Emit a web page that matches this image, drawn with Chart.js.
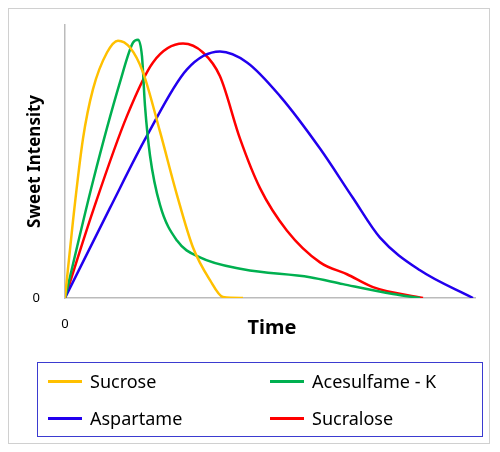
<!DOCTYPE html>
<html><head><meta charset="utf-8">
<script src="https://cdn.jsdelivr.net/npm/chart.js@4"></script>
<style>
html,body{margin:0;padding:0;background:#fff;}
#wrap{position:relative;width:500px;height:452px;}
#frame{position:absolute;left:8px;top:8px;width:482px;height:436px;border:1px solid #d0d0d0;box-sizing:border-box;}
#legend{position:absolute;left:37px;top:362px;width:446px;height:75px;border:1.5px solid #3b3bd0;box-sizing:border-box;font-family:"Noto Sans",sans-serif;font-size:18px;color:#000;}
.item{position:absolute;display:flex;align-items:center;}
.sw{width:34px;height:3px;margin-right:8px;}
</style></head><body>
<div id="wrap"><div id="frame"></div>
<canvas id="c" width="500" height="452" style="position:absolute;left:0;top:0;width:500px;height:452px"></canvas>
<div id="legend"></div></div>
<script>
const seriesNames=["Sucrose","Acesulfame - K","Aspartame","Sucralose"];
const seriesColors=["#FFC000","#00B050","#2200EE","#FF0000"];
const xTitle="Time", yTitle="Sweet Intensity";
const sucroseX=[0,8,18,28,42,53,65,78,95,112,128,145,158,178];
const sucroseY=[0,78,161,211,248,260,253,228,168,104,51,18,1,0];
const aceX=[0,28,55,68,73,77,80,85,95,112,135,178,245,278,328,355];
const aceY=[0,118,218,258,261,244,194,144,94,58,41,29,21,14,4,0];
const aspX=[0,45,82,122,155,182,215,255,288,315,355,408];
const aspY=[0,91,164,231,249,238,204,151,101,61,28,0];
const sucrX=[0,28,62,88,118,138,155,175,195,222,255,282,308,358];
const sucrY=[0,88,184,238,257,248,224,161,111,68,36,24,11,0];
const xs=[sucroseX,aceX,aspX,sucrX], ys=[sucroseY,aceY,aspY,sucrY];
const datasets=xs.map((x,i)=>({label:seriesNames[i],data:x.map((v,j)=>({x:v,y:ys[i][j]})),
 borderColor:seriesColors[i],borderWidth:2.5,pointRadius:0,showLine:true,fill:false,cubicInterpolationMode:'monotone'}));
const titles={id:'titles',afterDraw(ch){const c=ch.ctx,a=ch.chartArea;c.save();c.fillStyle='#000';
 c.textAlign='center';c.textBaseline='middle';
 c.font='bold 20px "Noto Sans"';c.fillText(xTitle,(a.left+a.right)/2+2,328);
 c.translate(35,(a.top+a.bottom)/2);c.rotate(-Math.PI/2);c.font='bold 17px "Noto Sans"';c.fillText(yTitle,0,0);c.restore();}};
new Chart(document.getElementById('c'),{type:'scatter',data:{datasets},plugins:[titles],
options:{responsive:false,animation:false,events:[],
layout:{padding:{top:22,right:25,left:0,bottom:0}},
plugins:{legend:{display:false},tooltip:{enabled:false}},
scales:{
 x:{type:'linear',min:0,max:410,grid:{display:false},border:{color:'#bbb',width:1.5},
  afterBuildTicks:s=>{s.ticks=[{value:0}];},
  ticks:{padding:10,color:'#000',font:{family:'Noto Sans',size:13},callback:v=>v===0?'0':''},
  afterFit:s=>{s.height=154;}},
 y:{type:'linear',min:0,max:276,grid:{display:false},border:{color:'#bbb',width:1.5},
  afterBuildTicks:s=>{s.ticks=[{value:0}];},
  ticks:{padding:17,color:'#000',font:{family:'Noto Sans',size:13},callback:v=>v===0?'0':''},
  afterFit:s=>{s.width=65;}}
}}});
const pos=[[10,6],[232,6],[10,43],[232,43]];
const lg=document.getElementById('legend');
[0,1,2,3].forEach((i,k)=>{const d=document.createElement('div');d.className='item';
d.style.left=pos[k][0]+'px';d.style.top=pos[k][1]+'px';
d.innerHTML='<span class="sw" style="background:'+seriesColors[i]+'"></span>'+seriesNames[i];lg.appendChild(d);});
</script></body></html>
